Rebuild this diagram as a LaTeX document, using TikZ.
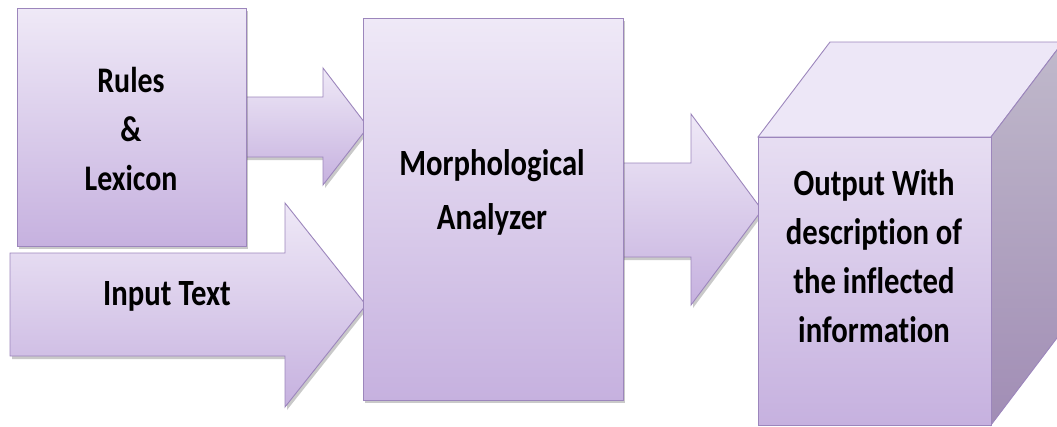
\documentclass[tikz,border=0pt]{standalone}
\usepackage{fontspec}
\newfontfamily\lbl[FakeStretch=0.83,Ligatures=NoCommon]{Carlito}
\usetikzlibrary{shadows}
\definecolor{edge}{HTML}{9C86BC}
\definecolor{ftop}{HTML}{EFE9F7}
\definecolor{fbot}{HTML}{C6B1DF}
\definecolor{ctop}{HTML}{EDE7F7}
\definecolor{stop}{HTML}{C0B9CB}
\definecolor{sbot}{HTML}{A18DB5}
\tikzset{
 blk/.style={draw=edge, line width=0.9pt, line join=miter, top color=ftop, bottom color=fbot,
   drop shadow={shadow xshift=2pt, shadow yshift=-3pt, opacity=0.3, fill=black!70}},
 boxnode/.style={blk, inner sep=0pt},
 lab/.style={font=\lbl\bfseries\fontsize{37}{49}\selectfont, align=center, text=black, inner sep=0pt},
}
\begin{document}
\begin{tikzpicture}[x=1pt,y=-1pt]
\useasboundingbox (0,0) rectangle (1057,426);
\clip (0,0) rectangle (1057,426);
% arrow from Rules & Lexicon to analyzer
\path[blk] (230,97) -- (323,97) -- (323,68) -- (368,127) -- (323,185) -- (323,157) -- (230,157) -- cycle;
% Rules & Lexicon box
\node[boxnode, minimum width=229pt, minimum height=238pt] (rules) at (131.5,127) {};
\node[lab, font=\lbl\bfseries\fontsize{36}{49}\selectfont] (rulesT) at (131,129) {Rules\\\&\\Lexicon};
% input text arrow
\path[blk] (10,253) -- (285,253) -- (285,203) -- (366,305) -- (285,407) -- (285,356) -- (10,356) -- cycle;
\node[lab] (inputT) at (167,296) {Input Text};
% arrow to output
\path[blk] (600,163) -- (691,163) -- (691,114) -- (762,210) -- (691,305) -- (691,257) -- (600,257) -- cycle;
% analyzer box
\node[boxnode, minimum width=260pt, minimum height=382pt] (morph) at (493,209) {};
\node[lab, font=\lbl\bfseries\fontsize{37}{54}\selectfont] (morphT) at (492,192) {Morphological\\Analyzer};
% output cube
\path[draw=edge, line width=0.9pt, fill=ctop] (758,137) -- (830,42) -- (1063,42) -- (991,137) -- cycle;
\path[draw=edge, line width=0.9pt, top color=stop, bottom color=sbot] (991,137) -- (1063,42) -- (1063,330) -- (991,425) -- cycle;
\node[draw=edge, line width=0.9pt, top color=ftop!80!fbot, bottom color=fbot, inner sep=0pt, minimum width=233pt, minimum height=288pt] (out) at (874.5,281) {};
\node[lab] (outT) at (874,256) {Output With\\description of\\the inflected\\information};
\end{tikzpicture}
\end{document}
